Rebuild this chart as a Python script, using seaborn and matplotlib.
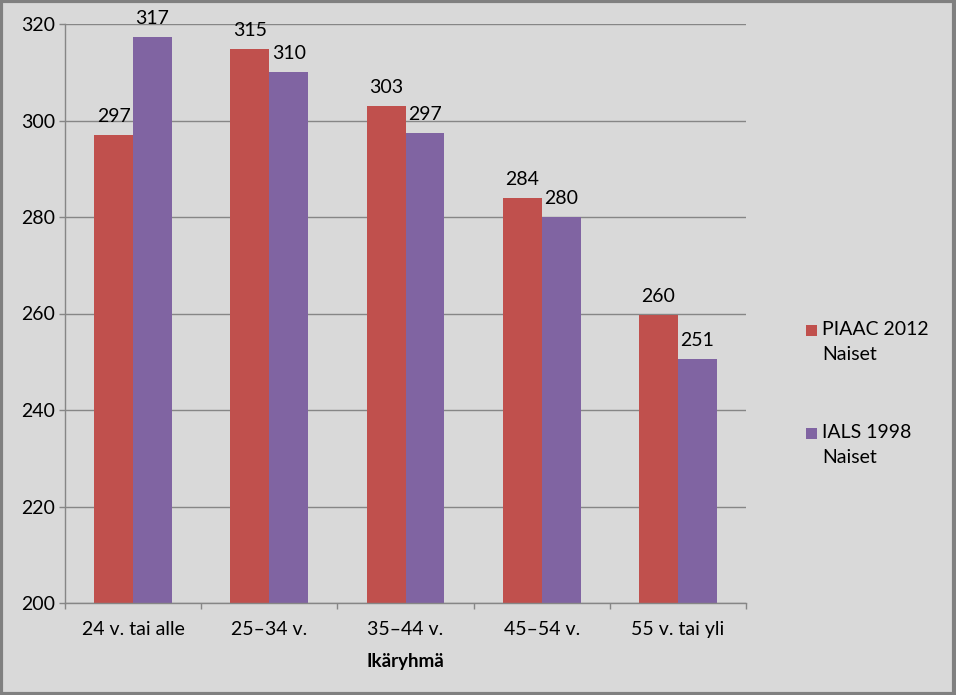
import matplotlib
matplotlib.use("Agg")
import matplotlib.pyplot as plt
import matplotlib.patches as mpatches
import seaborn as sns
import pandas as pd
import numpy as np

categories = ["24 v. tai alle", "25–34 v.", "35–44 v.", "45–54 v.", "55 v. tai yli"]
series_names = ["PIAAC 2012\nNaiset", "IALS 1998\nNaiset"]
piaac_2012 = [297.0, 314.8, 303.0, 283.9, 259.7]
ials_1998 = [317.3, 310.1, 297.4, 280.0, 250.6]
colors = ["#c0504d", "#8064a2"]
yticks = [200, 220, 240, 260, 280, 300, 320]

df = pd.DataFrame({
    "cat": categories * 2,
    "series": [series_names[0]] * 5 + [series_names[1]] * 5,
    "value": piaac_2012 + ials_1998,
})

sns.set_theme(style="white")
plt.rcParams["font.family"] = ["Lato", "DejaVu Sans"]

W, H = 956, 695
fig = plt.figure(figsize=(W / 100, H / 100), dpi=100, facecolor="#d9d9d9")
ax = fig.add_axes([65 / W, (H - 603) / H, (746 - 65) / W, (603 - 24) / H])
ax.set_facecolor("#d9d9d9")

sns.barplot(data=df, x="cat", y="value", hue="series", palette=colors,
            width=0.57, gap=0, ax=ax, legend=False, saturation=1,
            order=categories, hue_order=series_names, linewidth=0, edgecolor="none")

ax.set_ylim(200, 320)
ax.set_xlim(-0.5, 4.5)
ax.set_yticks(yticks)
ax.yaxis.grid(True, color="#868686", linewidth=1)
ax.set_axisbelow(True)

for s in ["top", "right"]:
    ax.spines[s].set_visible(False)
for s in ["left", "bottom"]:
    ax.spines[s].set_color("#868686")
    ax.spines[s].set_linewidth(1)

ax.tick_params(axis="y", which="major", direction="out", length=4.3, width=1,
               color="#868686", pad=3, labelsize=14, labelcolor="black", left=True)
ax.set_xticks(np.arange(len(categories)))
ax.set_xticklabels(categories)
ax.set_xticks(np.arange(-0.5, len(categories), 1), minor=True)
ax.tick_params(axis="x", which="major", length=0, pad=13, labelsize=14, labelcolor="black")
ax.tick_params(axis="x", which="minor", direction="out", length=4.3, width=1,
               color="#868686", bottom=True)

ax.set_ylabel("")
ax.set_xlabel("Ikäryhmä", fontsize=13.5, fontweight="bold", labelpad=11, color="black")

for cont in ax.containers:
    labels = [f"{b.get_height():.0f}" for b in cont]
    ax.bar_label(cont, labels=labels, padding=7, fontsize=14, color="black")

# Legend (manual, top-aligned squares like the reference)
entries_top = [325, 428]
for name, col, yt in zip(series_names, colors, entries_top):
    fig.patches.append(mpatches.Rectangle((806 / W, (H - yt - 11) / H), 11 / W, 11 / H,
                                          transform=fig.transFigure, facecolor=col,
                                          edgecolor="none"))
    fig.text(822 / W, (H - yt + 4) / H, name, fontsize=14, va="top", ha="left",
             linespacing=1.55, color="black")

fig.patches.append(mpatches.Rectangle((0.0015, 0.002), 0.996, 0.996, transform=fig.transFigure,
                                      facecolor="none", edgecolor="#808080", linewidth=3))

fig.savefig("out.png", dpi=100, facecolor=fig.get_facecolor())
